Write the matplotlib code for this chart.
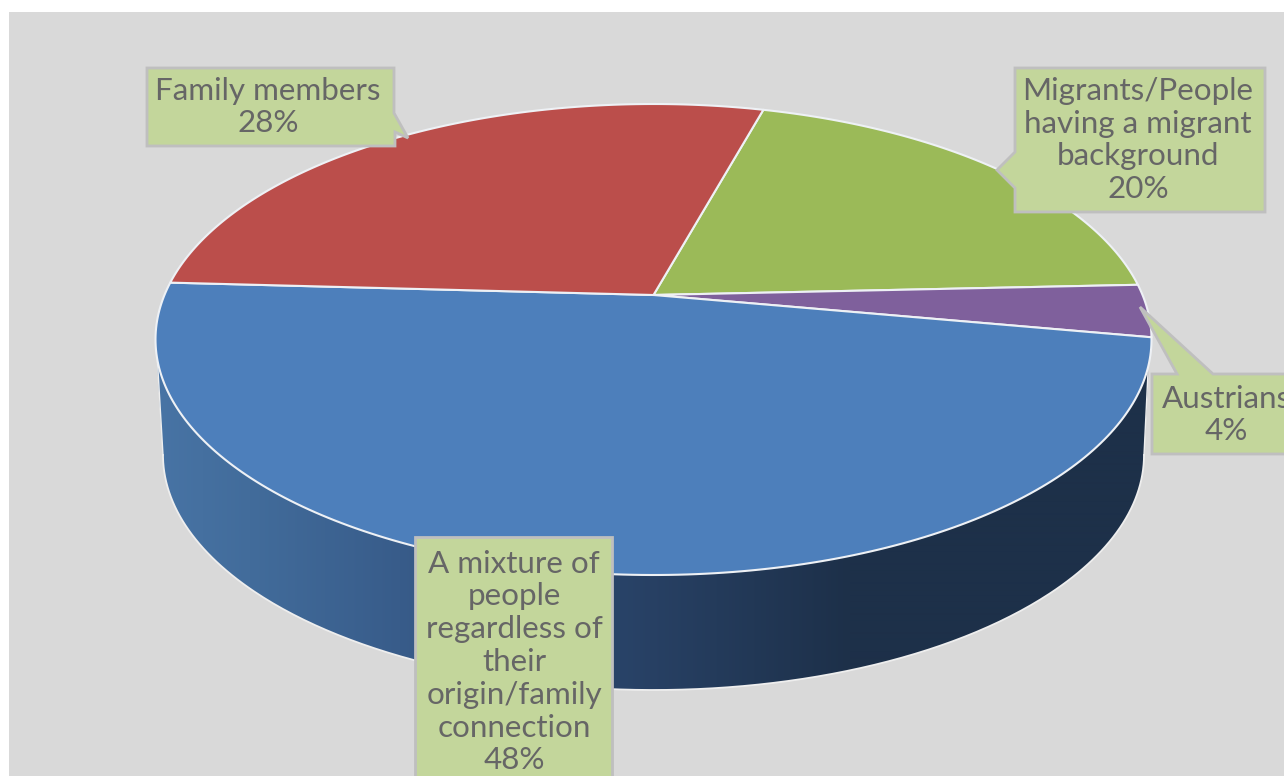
import numpy as np
import matplotlib
matplotlib.use("Agg")
import matplotlib.pyplot as plt
from matplotlib.patches import Polygon, Rectangle

# ---- data ----
categories = ["Migrants/People\nhaving a migrant\nbackground", "Austrians",
              "A mixture of\npeople\nregardless of\ntheir\norigin/family\nconnection", "Family members"]
values = [20.0, 3.6, 48.0, 28.4]
slice_colors = ["#9bba58", "#7f609c", "#4d7fbb", "#bb4e4b"]
start_angle = 15.4

# ---- layout (pixels) ----
W, H = 1284, 776
fig = plt.figure(figsize=(W / 100, H / 100), dpi=100, facecolor="white")
ax = fig.add_axes([0, 0, 1, 1])
ax.set_xlim(0, W)
ax.set_ylim(H, 0)
ax.axis("off")
ax.add_patch(Rectangle((9, 12), W, H, fc="#d9d9d9", ec="none", zorder=0))

CX, APEX_Y, TOP_Y, NEAR_Y, RX = 653.5, 295.0, 104.0, 575.0, 498.0
c = ((TOP_Y + NEAR_Y) - 2 * APEX_Y) / (NEAR_Y - TOP_Y)
a = TOP_Y * (1 + c) - APEX_Y
d = RX * np.sqrt(1 - c ** 2)


def project(theta_deg):
    """Perspective projection of a circle point; angle clockwise from the far side."""
    t = np.radians(theta_deg)
    u, v = np.sin(t), np.cos(t)
    w = 1 + c * v
    return CX + d * u / w, (a * v + APEX_Y) / w


# ---- side wall ----
BOT_CY, BOT_RX, BOT_RY = 455.0, 490.5, 235.0
tt = np.linspace(0, np.pi, 300)
wall_x = CX + BOT_RX * np.cos(tt)
wall_y = BOT_CY + BOT_RY * np.sin(tt)
wall_xy = np.column_stack([np.r_[1149, wall_x, 157], np.r_[362, wall_y, 362]])
wall = Polygon(wall_xy, closed=True, fc="none", ec="none", zorder=1)
ax.add_patch(wall)
stops_x = [155, 250, 400, 620, 850, 1150]
stops_c = np.array([[72, 116, 165], [66, 108, 155], [56, 92, 138], [41, 67, 104], [29, 48, 73], [29, 48, 73]], float)
xs = np.arange(150, 1156)
grad = np.stack([np.interp(xs, stops_x, stops_c[:, i]) for i in range(3)], axis=-1)[None, :, :] / 255
im = ax.imshow(grad, extent=(150, 1156, 700, 300), aspect="auto", zorder=1.1, interpolation="bilinear")
im.set_clip_path(wall)
ax.set_xlim(0, W)
ax.set_ylim(H, 0)
ax.plot(wall_x, wall_y, color="#eeeeee", lw=1.3, zorder=1.2)
ax.plot([157.5, 163], [362, BOT_CY], color="#eeeeee", lw=1.0, zorder=1.2)
ax.plot([1148.5, 1144], [362, BOT_CY], color="#eeeeee", lw=1.0, zorder=1.2)

# ---- top face ----
angle = start_angle
for val, col in zip(values, slice_colors):
    sweep = 360 * val / sum(values)
    th = np.linspace(angle, angle + sweep, 200)
    px, py = project(th)
    pts = np.column_stack([np.r_[CX, px], np.r_[APEX_Y, py]])
    ax.add_patch(Polygon(pts, closed=True, fc=col, ec="#eef1f5", lw=1.5, joinstyle="round", zorder=2))
    angle += sweep

# ---- callouts ----
BOX = dict(fc="#c3d69b", ec="#bfbfbf", lw=2.0, joinstyle="miter", zorder=3)
TXT = dict(ha="center", va="center", color="#666666", fontsize=22.6, family="Lato",
           fontweight="normal", linespacing=1.21, zorder=4)
pct = [f"{round(v)}%" for v in values]

callouts = [
    [(147, 68), (394, 68), (394, 113), (408, 138), (395, 132), (395, 146), (147, 146)],
    [(1015, 68), (1265, 68), (1265, 212), (1015, 212), (1015, 188), (997, 170), (1015, 152)],
    [(1152, 374), (1177, 374), (1140, 307), (1213, 374), (1300, 374), (1300, 454), (1152, 454)],
    [(415, 537), (612, 537), (612, 800), (415, 800)],
]
for pts in callouts:
    ax.add_patch(Polygon(pts, closed=True, **BOX))

ax.text(268, 107, f"{categories[3]}\n{pct[3]}", **TXT)
ax.text(1138, 140, f"{categories[0]}\n{pct[0]}", **TXT)
ax.text(1226, 415, f"{categories[1]}\n{pct[1]}", clip_on=False, **TXT)
ax.text(514, 662, f"{categories[2]}\n{pct[2]}", **TXT)

fig.savefig("out.png", dpi=100, facecolor="white")
